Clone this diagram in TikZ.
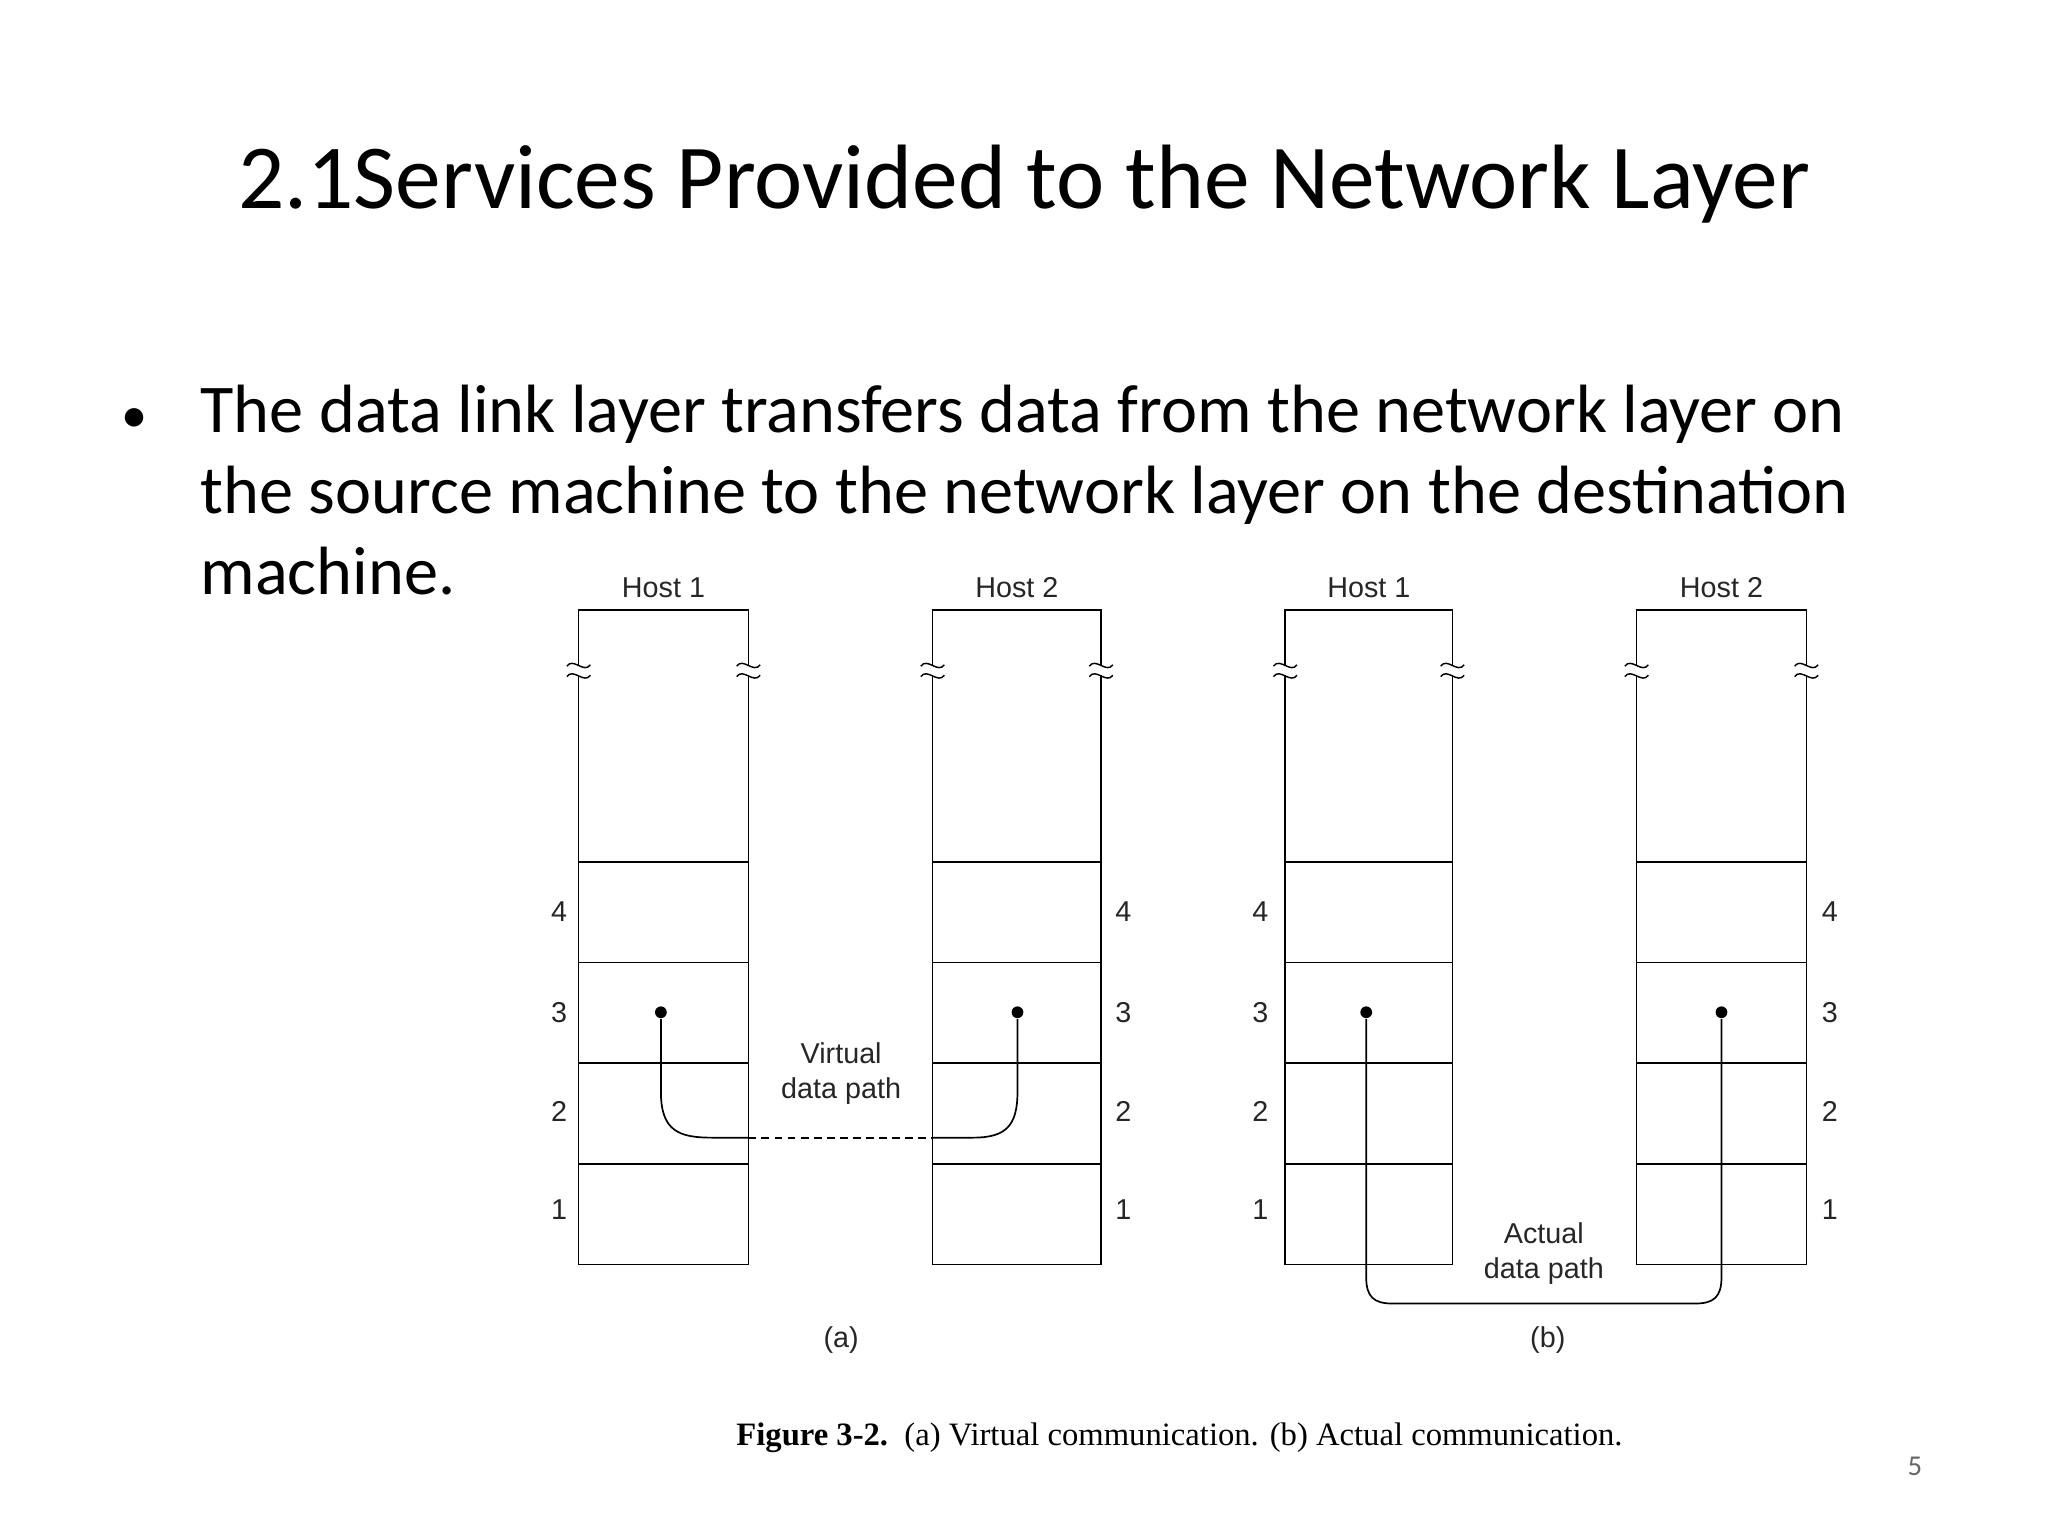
\documentclass[tikz,border=0pt]{standalone}
\usepackage{fontspec}
\setmainfont{Carlito}
\newfontfamily\hv{Liberation Sans}
\newfontfamily\tm{Liberation Serif}
\begin{document}
\begin{tikzpicture}[x=1pt,y=-1pt,line width=1.3pt,
  lbl/.style={font=\hv\fontsize{22}{27}\selectfont,text=black!85,align=center},
  bodyt/.style={font=\fontsize{52.3}{62}\selectfont,anchor=base west,inner sep=0pt},
  dot/.style={circle,fill=black,inner sep=0pt,minimum size=9pt},
  brk/.pic={\fill[white] (-10,-4) rectangle (10,4);
    \draw[line width=1.1pt] (-9,-3) .. controls (-4,-10) and (4,3) .. (9,-4);
    \draw[line width=1.1pt] (-9,5) .. controls (-4,-2) and (4,11) .. (9,4);}]
\useasboundingbox (0,0) rectangle (1568,1176);
\node[font=\fontsize{70}{80}\selectfont,anchor=base,inner sep=0pt] (title) at (784,160) {2.1Services Provided to the Network Layer};
\node[font=\fontsize{40}{50}\selectfont,anchor=base,inner sep=0pt] (bul) at (103,331) {•};
\node[bodyt] (l1) at (153,331) {The data link layer transfers data from the network layer on};
\node[bodyt] (l2) at (153,393) {the source machine to the network layer on the destination};
\node[bodyt] (l3) at (153,455) {machine.};
\foreach \n/\xl/\xr/\t in {a1/443/573/Host 1,a2/714/843/Host 2,b1/984/1112/Host 1,b2/1253/1383/Host 2}{
  \draw (\xl,968) -- (\xl,467) -- (\xr,467) -- (\xr,968) -- cycle;
  \foreach \y in {660,737,814,891} \draw (\xl,\y) -- (\xr,\y);
  \pic at (\xl,513) {brk}; \pic at (\xr,513) {brk};
  \node[lbl] (\n h) at ({(\xl+\xr)/2},450) {\t};
}
\foreach \x/\p in {428/al,860/ar,965/bl,1401/br}{
  \node[lbl] (\p4) at (\x,698) {4}; \node[lbl] (\p3) at (\x,775) {3};
  \node[lbl] (\p2) at (\x,851) {2}; \node[lbl] (\p1) at (\x,926) {1};}
\node[dot] (d1) at (506,775) {}; \node[dot] (d2) at (779,775) {};
\node[dot] (d3) at (1046,775) {}; \node[dot] (d4) at (1318,775) {};
\coordinate (c1) at (573,871); \coordinate (c2) at (714,871);
\draw (d1) -- (506,836) .. controls (506,866) and (520,871) .. (545,871) -- (c1);
\draw[dashed,dash pattern=on 6pt off 4pt] (c1) -- (c2);
\draw (c2) -- (745,871) .. controls (770,871) and (779,862) .. (779,836) -- (d2);
\draw (d3) -- (1046,978) .. controls (1046,993) and (1052,998) .. (1066,998) -- (1298,998) .. controls (1312,998) and (1318,993) .. (1318,978) -- (d4);
\node[lbl] (vt) at (644,822) {Virtual\\data path};
\node[lbl] (at) at (1182,960) {Actual\\data path};
\node[lbl] (la) at (644,1026) {(a)};
\node[lbl] (lb) at (1185,1026) {(b)};
\node[font=\tm\fontsize{25}{30}\selectfont] (cap) at (903,1101) {\textbf{Figure 3-2.}\ \ (a) Virtual communication. (b) Actual communication.};
\node[font=\fontsize{22}{26}\selectfont,text=black!60] (pg) at (1466,1123) {5};
\end{tikzpicture}
\end{document}
